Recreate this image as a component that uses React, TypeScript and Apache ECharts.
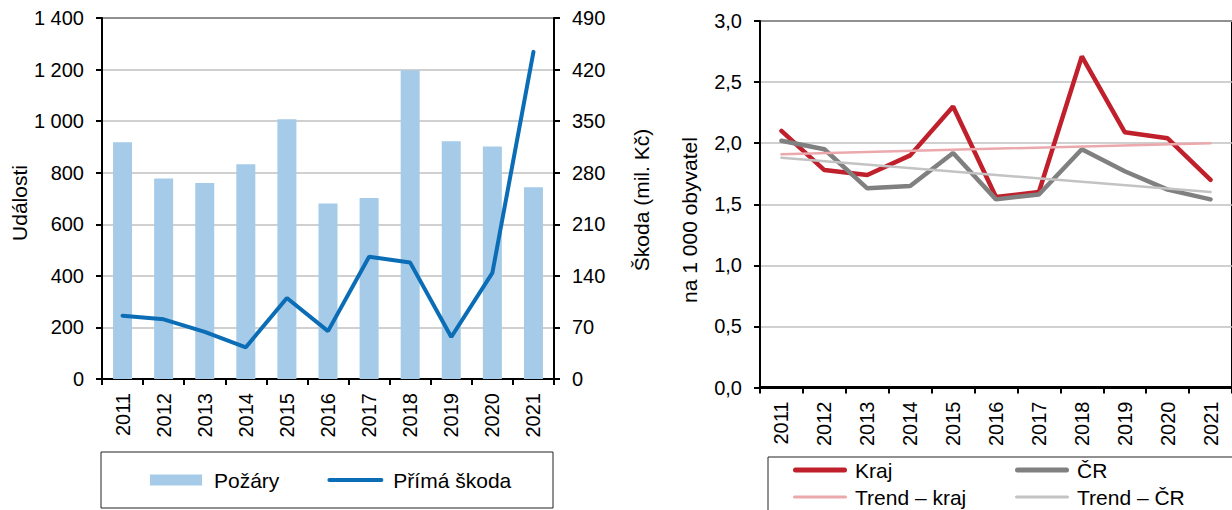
import React, { useEffect, useRef } from "react";
import * as echarts from "echarts";

const years = ["2011", "2012", "2013", "2014", "2015", "2016", "2017", "2018", "2019", "2020", "2021"];
const pozary = [918, 778, 760, 833, 1007, 681, 702, 1197, 922, 902, 744];
const primaSkoda = [86, 81, 64, 43, 110, 65, 166, 158, 57, 144, 444];
const kraj = [2.1, 1.78, 1.74, 1.9, 2.3, 1.56, 1.6, 2.71, 2.09, 2.04, 1.7];
const cr = [2.02, 1.95, 1.63, 1.65, 1.92, 1.54, 1.58, 1.95, 1.77, 1.62, 1.54];
// trend lines: values read at first and last year
const trendKraj = [1.91, 2.0];
const trendCr = [1.88, 1.6];

const FONT = "Liberation Sans, Arial, Helvetica, sans-serif";
const BLACK = "#000";

const fmtThousands = (v: number) => String(v).replace(/\B(?=(\d{3})+(?!\d))/g, " ");
const fmtComma = (v: number) => v.toFixed(1).replace(".", ",");

// legend icon paths; the leading/trailing moveTo's fix the bounding box to w x h
const lineIcon = (w: number, h: number, t: number) => {
  const r = t / 2;
  const y0 = (h - t) / 2;
  const y1 = (h + t) / 2;
  return `path://M0,0 M${r},${y0} L${w - r},${y0} A${r},${r} 0 0 1 ${w - r},${y1} L${r},${y1} A${r},${r} 0 0 1 ${r},${y0} Z M${w},${h}`;
};
const barIcon = (w: number, h: number, inset: number) =>
  `path://M0,0 M${inset},0 L${w - inset},0 L${w - inset},${h} L${inset},${h} Z M${w},${h}`;

function catAxis(gridIndex: number, lineWidth: number) {
  return {
    type: "category",
    gridIndex,
    data: years,
    boundaryGap: true,
    axisLine: { show: true, lineStyle: { color: BLACK, width: lineWidth } },
    axisTick: { show: true, length: 6, lineStyle: { color: BLACK, width: 2 } },
    axisLabel: { rotate: 90, margin: 14, fontSize: 20, color: BLACK, fontFamily: FONT },
    splitLine: { show: false },
  };
}

function valAxis(gridIndex: number, min: number, max: number, interval: number, fmt: (v: number) => string, opts: any = {}) {
  return {
    type: "value",
    gridIndex,
    min,
    max,
    interval,
    axisLine: { show: true, lineStyle: { color: BLACK, width: 2 } },
    axisTick: { show: true, length: 6, lineStyle: { color: BLACK, width: 2 } },
    axisLabel: { margin: 18, fontSize: 20, color: BLACK, fontFamily: FONT, formatter: fmt },
    splitLine: { show: true, lineStyle: { color: "#c0c0c0", width: 1.5 } },
    ...opts,
  };
}

function rotText(text: string, x: number, y: number) {
  return {
    type: "text",
    x,
    y,
    rotation: Math.PI / 2,
    style: {
      text,
      fill: BLACK,
      font: `21px ${FONT}`,
      align: "center",
      verticalAlign: "middle",
      textAlign: "center",
      textVerticalAlign: "middle",
    },
  };
}

const legendText = (padLeft: number) => ({
  fontSize: 21,
  color: BLACK,
  fontFamily: FONT,
  lineHeight: 24,
  padding: [0, 0, 0, padLeft],
});

function oneLegend(name: string, icon: string, left: number, top: number) {
  return {
    data: [{ name, icon }],
    left,
    top,
    padding: 0,
    itemWidth: 54,
    itemHeight: 11,
    selectedMode: false,
    textStyle: legendText(3),
  };
}

export default function App() {
  const ref = useRef<HTMLDivElement>(null);

  useEffect(() => {
    if (!ref.current) return;
    const chart = echarts.init(ref.current, undefined, { renderer: "svg" });
    chart.setOption({
      animation: false,
      backgroundColor: "#fff",
      textStyle: { fontFamily: FONT },
      grid: [
        { left: 102, top: 18, width: 452, height: 361, show: true, borderColor: BLACK, borderWidth: 2, backgroundColor: "transparent" },
        { left: 760, top: 21, width: 483, height: 366.5, show: true, borderColor: BLACK, borderWidth: 2, backgroundColor: "transparent" },
      ],
      xAxis: [catAxis(0, 2), catAxis(1, 3)],
      yAxis: [
        valAxis(0, 0, 1400, 200, fmtThousands),
        valAxis(0, 0, 490, 70, (v: number) => String(v), { position: "right", splitLine: { show: false } }),
        valAxis(1, 0, 3, 0.5, fmtComma),
      ],
      legend: [
        {
          data: [
            { name: "Požáry", icon: barIcon(56, 11, 2) },
            { name: "Přímá škoda", icon: lineIcon(56, 11, 4) },
          ],
          left: 148,
          top: 468,
          padding: 0,
          itemWidth: 56,
          itemHeight: 11,
          itemGap: 48,
          selectedMode: false,
          textStyle: legendText(5),
        },
        oneLegend("Kraj", lineIcon(54, 11, 5), 793, 458),
        oneLegend("Trend – kraj", lineIcon(54, 11, 3), 793, 485),
        oneLegend("ČR", lineIcon(54, 11, 5), 1015, 458),
        oneLegend("Trend – ČR", lineIcon(54, 11, 3), 1015, 485),
      ],
      graphic: [
        { type: "rect", shape: { x: 101, y: 452, width: 452, height: 56 }, style: { fill: "none", stroke: "#222", lineWidth: 1 }, z: 0 },
        { type: "rect", shape: { x: 768, y: 457, width: 520, height: 90 }, style: { fill: "none", stroke: "#222", lineWidth: 1 }, z: 0 },
        rotText("Události", 19, 203),
        rotText("Škoda (mil. Kč)", 641, 200),
        rotText("na 1 000 obyvatel", 689, 220),
      ],
      series: [
        {
          name: "Požáry",
          type: "bar",
          xAxisIndex: 0,
          yAxisIndex: 0,
          data: pozary,
          barWidth: 19,
          itemStyle: { color: "#a6cbe8" },
          z: 2,
        },
        {
          name: "Přímá škoda",
          type: "line",
          xAxisIndex: 0,
          yAxisIndex: 1,
          data: primaSkoda,
          symbol: "none",
          showSymbol: false,
          color: "#0b6db5",
          lineStyle: { width: 4, color: "#0b6db5", cap: "round" },
          z: 3,
        },
        {
          name: "Kraj",
          type: "line",
          xAxisIndex: 1,
          yAxisIndex: 2,
          data: kraj,
          symbol: "none",
          showSymbol: false,
          color: "#c0202b",
          lineStyle: { width: 4.5, color: "#c0202b", cap: "round" },
          z: 3,
        },
        {
          name: "ČR",
          type: "line",
          xAxisIndex: 1,
          yAxisIndex: 2,
          data: cr,
          symbol: "none",
          showSymbol: false,
          color: "#808080",
          lineStyle: { width: 4.5, color: "#808080", cap: "round" },
          z: 3,
        },
        {
          name: "Trend – kraj",
          type: "line",
          xAxisIndex: 1,
          yAxisIndex: 2,
          data: [
            [years[0], trendKraj[0]],
            [years[years.length - 1], trendKraj[1]],
          ],
          symbol: "none",
          showSymbol: false,
          color: "#eba9ae",
          lineStyle: { width: 2.5, color: "#eba9ae", cap: "round" },
          z: 4,
        },
        {
          name: "Trend – ČR",
          type: "line",
          xAxisIndex: 1,
          yAxisIndex: 2,
          data: [
            [years[0], trendCr[0]],
            [years[years.length - 1], trendCr[1]],
          ],
          symbol: "none",
          showSymbol: false,
          color: "#c3c3c3",
          lineStyle: { width: 2.5, color: "#c3c3c3", cap: "round" },
          z: 4,
        },
      ],
    });
    return () => chart.dispose();
  }, []);

  return (
    <div
      ref={ref}
      style={{ position: "fixed", left: 0, top: 0, width: 1232, height: 510, background: "#fff" }}
    />
  );
}
